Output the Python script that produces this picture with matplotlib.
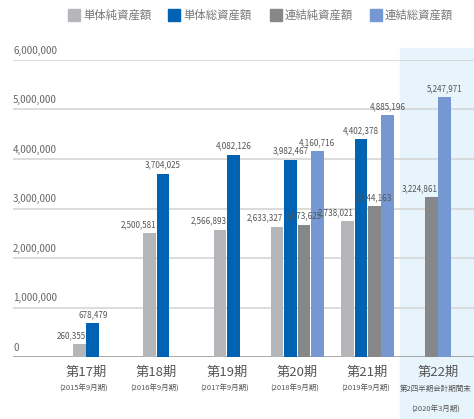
import numpy as np
import matplotlib
matplotlib.use("Agg")
import matplotlib.pyplot as plt
from matplotlib.patches import Rectangle
import matplotlib.transforms as mtransforms

plt.rcParams['font.family'] = ['Noto Sans CJK JP', 'DejaVu Sans']

# ---- data --------------------------------------------------------------------
periods = ["第17期", "第18期", "第19期", "第20期", "第21期", "第22期"]
subs = ["(2015年9月期)", "(2016年9月期)", "(2017年9月期)", "(2018年9月期)",
        "(2019年9月期)", "第2四半期会計期間末\n(2020年3月期)"]
series = ["単体純資産額", "単体総資産額", "連結純資産額", "連結総資産額"]
tan_jun = [260355, 2500581, 2566893, 2633327, 2738021, None]
tan_so = [678479, 3704025, 4082126, 3982467, 4402378, None]
ren_jun = [None, None, None, 2673625, 3044163, 3224861]
ren_so = [None, None, None, 4160716, 4885196, 5247971]
yticks = [0, 1000000, 2000000, 3000000, 4000000, 5000000, 6000000]

colors = ["#b5b6b9", "#0062b2", "#858789", "#7598d2"]
values = [tan_jun, tan_so, ren_jun, ren_so]

W, H = 474, 419
fig = plt.figure(figsize=(W / 100, H / 100), dpi=100)

# shaded background behind the latest period
fig.patches.append(Rectangle((400 / W, 0), 74 / W, (H - 48) / H,
                             transform=fig.transFigure, color="#e7f4fc",
                             zorder=-1))

ax = fig.add_axes([13 / W, 62 / H, 461 / W, 297 / H])
ax.patch.set_alpha(0)
ax.set_ylim(0, 6000000)
ax.set_xlim(-1.037, 5.511)
for s in ax.spines.values():
    s.set_visible(False)
ax.set_xticks([]); ax.set_yticks([])

# gridlines + tick labels above them
for t in yticks:
    ax.axhline(t, color="#999999" if t == 0 else "#d6d6d6", lw=1.2, zorder=1)
    ax.annotate(f"{t:,}", (0.0, t), xycoords=ax.get_yaxis_transform(),
                xytext=(0, 3), textcoords="offset points", ha="left",
                va="bottom", fontsize=7, color="#666666")

w, step = 0.178, 0.19
for i in range(len(periods)):
    present = [k for k in range(4) if values[k][i] is not None]
    n = len(present)
    for j, k in enumerate(present):
        v = values[k][i]
        xc = i + (j - (n - 1) / 2) * step
        ax.bar(xc, v, w, color=colors[k], zorder=2)
        # label placement: light gray labels lean left
        if k == 0 or (k == 2 and n == 2):
            xl, ha = xc + w / 2, "right"
        else:
            xl, ha = xc, "center"
        ax.annotate(f"{v:,}", (xl, v), xytext=(0, 3),
                    textcoords="offset points", ha=ha, va="bottom",
                    fontsize=5.8, color="#555555", zorder=3)

# category labels
tr = mtransforms.blended_transform_factory(ax.transData, fig.transFigure)
for i, (p, s) in enumerate(zip(periods, subs)):
    ax.text(i, 1 - 372 / H, p, transform=tr, ha="center", va="center",
            fontsize=9.5, color="#555555", clip_on=False)
    for li, line in enumerate(s.split("\n")):
        long = len(line) > 8
        ax.text(i - 0.03 * long, 1 - (389 + 21 * li) / H, line,
                transform=tr, ha="center", va="center",
                fontsize=5.4 if long else 8.2,
                color="#555555", clip_on=False)

# legend
lx = [68, 168, 270, 370]
for x0, name, c in zip(lx, series, colors):
    fig.patches.append(Rectangle((x0 / W, 1 - 21 / H), 12 / W, 12 / H,
                                 transform=fig.transFigure, color=c))
    fig.text((x0 + 15) / W, 1 - 15 / H, name, ha="left", va="center",
             fontsize=8.2, color="#777777")

fig.savefig("out.png", dpi=100)
